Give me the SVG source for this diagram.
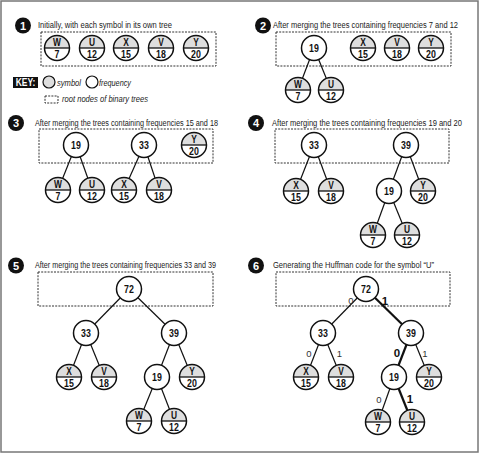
<svg xmlns="http://www.w3.org/2000/svg" xmlns:xlink="http://www.w3.org/1999/xlink" width="480" height="454" viewBox="0 0 480 454">
<style>
  text { font-family: "Liberation Sans", Arial, sans-serif; }
  .title { font-size: 9.5px; fill: #1a1a1a; }
  .badge circle { fill: #111; }
  .badge text { font-size: 11px; font-weight: bold; fill: #fff; text-anchor: middle; }
  .box { fill: none; stroke: #333; stroke-width: 1; stroke-dasharray: 2 1.2; }
  .sym, .num, .inum { font-size: 11px; font-weight: bold; fill: #111; text-anchor: middle; transform: scale(0.8, 1); }
  .sym { font-size: 10.5px; }
  .inode { fill: #fff; stroke: #111; stroke-width: 1.5; }
  .edge { stroke: #111; stroke-width: 1.2; fill: none; }
  .edge.bold { stroke-width: 2.2; }
  .key { font-size: 9px; font-style: italic; fill: #222; }
  .bit { font-size: 9.5px; fill: #333; text-anchor: middle; }
  .bit.b { font-size: 11.5px; font-weight: bold; fill: #111; }
</style>
<defs>
  <g id="leaf">
    <circle r="12.5" fill="#fff"/>
    <path d="M-12.5,0 A12.5,12.5 0 0 1 12.5,0 Z" fill="#dedede"/>
    <line x1="-12.5" y1="0" x2="12.5" y2="0" stroke="#111" stroke-width="1.3"/>
    <circle r="12.5" fill="none" stroke="#111" stroke-width="1.5"/>
  </g>
</defs>

<rect x="1" y="1" width="477" height="451" fill="#fff" stroke="#777" stroke-width="1.5"/>

<!-- Titles and badges -->
<g id="badge1" class="badge"><circle cx="23" cy="25.5" r="8"/><text x="23" y="29.5">1</text></g>
<text class="title" transform="translate(38,28) scale(0.79,1)" textLength="169.6" lengthAdjust="spacingAndGlyphs">Initially, with each symbol in its own tree</text>
<g id="badge2" class="badge"><circle cx="263" cy="25.5" r="8"/><text x="263" y="29.5">2</text></g>
<text class="title" transform="translate(273,28) scale(0.79,1)" textLength="234.2" lengthAdjust="spacingAndGlyphs">After merging the trees containing frequencies 7 and 12</text>
<g id="badge3" class="badge"><circle cx="16" cy="123" r="8"/><text x="16" y="127">3</text></g>
<text class="title" transform="translate(35,126) scale(0.79,1)" textLength="231.6" lengthAdjust="spacingAndGlyphs">After merging the trees containing frequencies 15 and 18</text>
<g id="badge4" class="badge"><circle cx="256" cy="123" r="8"/><text x="256" y="127">4</text></g>
<text class="title" transform="translate(272,126) scale(0.79,1)" textLength="240.5" lengthAdjust="spacingAndGlyphs">After merging the trees containing frequencies 19 and 20</text>
<g id="badge5" class="badge"><circle cx="16" cy="265.5" r="8"/><text x="16" y="269.5">5</text></g>
<text class="title" transform="translate(35,268) scale(0.79,1)" textLength="229.1" lengthAdjust="spacingAndGlyphs">After merging the trees containing frequencies 33 and 39</text>
<g id="badge6" class="badge"><circle cx="256" cy="265.5" r="8"/><text x="256" y="269.5">6</text></g>
<text class="title" transform="translate(273,268) scale(0.79,1)" textLength="203.8" lengthAdjust="spacingAndGlyphs">Generating the Huffman code for the symbol “U”</text>

<!-- Dashed root boxes -->
<rect class="box" x="41" y="32" width="175" height="34"/>
<rect class="box" x="276" y="32" width="175" height="34"/>
<rect class="box" x="39" y="129" width="174" height="34"/>
<rect class="box" x="275" y="129" width="174" height="34"/>
<rect class="box" x="38" y="272" width="175" height="34"/>
<rect class="box" x="276" y="272" width="174" height="34"/>

<!-- Key -->
<g id="key">
  <rect x="13" y="77" width="25" height="11" fill="#111"/>
  <text transform="translate(25.5,86) scale(0.85,1)" font-size="10" font-weight="bold" fill="#fff" text-anchor="middle">KEY:</text>
  <circle cx="49" cy="82" r="6" fill="#dedede" stroke="#111" stroke-width="1.2"/>
  <text class="key" transform="translate(57,85.5) scale(0.82,1)" textLength="29.3" lengthAdjust="spacingAndGlyphs">symbol</text>
  <circle cx="92" cy="82" r="6" fill="#fff" stroke="#111" stroke-width="1.2"/>
  <text class="key" transform="translate(99,85.5) scale(0.82,1)" textLength="39" lengthAdjust="spacingAndGlyphs">frequency</text>
  <rect class="box" x="45" y="96" width="13" height="7"/>
  <text class="key" transform="translate(62,102) scale(0.82,1)" textLength="104.9" lengthAdjust="spacingAndGlyphs">root nodes of binary trees</text>
</g>

<!-- Connectors -->
<g id="connectors">
  <line class="edge" x1="314" y1="48" x2="298" y2="90"/>
  <line class="edge" x1="314" y1="48" x2="331" y2="90"/>

  <line class="edge" x1="76" y1="145" x2="58" y2="190"/>
  <line class="edge" x1="76" y1="145" x2="92" y2="190"/>
  <line class="edge" x1="144" y1="145" x2="124" y2="190"/>
  <line class="edge" x1="144" y1="145" x2="159" y2="190"/>

  <line class="edge" x1="314" y1="145" x2="296" y2="191"/>
  <line class="edge" x1="314" y1="145" x2="331" y2="191"/>
  <line class="edge" x1="406" y1="145" x2="389" y2="191"/>
  <line class="edge" x1="406" y1="145" x2="423" y2="191"/>
  <line class="edge" x1="389" y1="191" x2="373" y2="235"/>
  <line class="edge" x1="389" y1="191" x2="407" y2="235"/>

  <line class="edge" x1="129" y1="289" x2="86" y2="333"/>
  <line class="edge" x1="129" y1="289" x2="174" y2="333"/>
  <line class="edge" x1="86" y1="333" x2="69" y2="377"/>
  <line class="edge" x1="86" y1="333" x2="104" y2="377"/>
  <line class="edge" x1="174" y1="333" x2="157" y2="377"/>
  <line class="edge" x1="174" y1="333" x2="192" y2="377"/>
  <line class="edge" x1="157" y1="377" x2="139" y2="421"/>
  <line class="edge" x1="157" y1="377" x2="174" y2="421"/>

  <line class="edge" x1="366" y1="289" x2="323" y2="333"/>
  <line class="edge bold" x1="366" y1="289" x2="411" y2="333"/>
  <line class="edge" x1="323" y1="333" x2="306" y2="377"/>
  <line class="edge" x1="323" y1="333" x2="341" y2="377"/>
  <line class="edge bold" x1="411" y1="333" x2="394" y2="377"/>
  <line class="edge" x1="411" y1="333" x2="429" y2="377"/>
  <line class="edge" x1="394" y1="377" x2="378" y2="422"/>
  <line class="edge bold" x1="394" y1="377" x2="412" y2="422"/>
</g>

<!-- Panel 1 nodes -->
<g id="p1-W" transform="translate(57,48)"><use xlink:href="#leaf"/><text class="sym" y="-1.8">W</text><text class="num" y="10">7</text></g>
<g id="p1-U" transform="translate(92,48)"><use xlink:href="#leaf"/><text class="sym" y="-1.8">U</text><text class="num" y="10">12</text></g>
<g id="p1-X" transform="translate(126,48)"><use xlink:href="#leaf"/><text class="sym" y="-1.8">X</text><text class="num" y="10">15</text></g>
<g id="p1-V" transform="translate(161,48)"><use xlink:href="#leaf"/><text class="sym" y="-1.8">V</text><text class="num" y="10">18</text></g>
<g id="p1-Y" transform="translate(196,48)"><use xlink:href="#leaf"/><text class="sym" y="-1.8">Y</text><text class="num" y="10">20</text></g>

<!-- Panel 2 nodes -->
<g id="p2-19" transform="translate(314,48)"><circle class="inode" r="12.5"/><text class="inum" y="4">19</text></g>
<g id="p2-X" transform="translate(363,48)"><use xlink:href="#leaf"/><text class="sym" y="-1.8">X</text><text class="num" y="10">15</text></g>
<g id="p2-V" transform="translate(397,48)"><use xlink:href="#leaf"/><text class="sym" y="-1.8">V</text><text class="num" y="10">18</text></g>
<g id="p2-Y" transform="translate(431,48)"><use xlink:href="#leaf"/><text class="sym" y="-1.8">Y</text><text class="num" y="10">20</text></g>
<g id="p2-W" transform="translate(298,90)"><use xlink:href="#leaf"/><text class="sym" y="-1.8">W</text><text class="num" y="10">7</text></g>
<g id="p2-U" transform="translate(331,90)"><use xlink:href="#leaf"/><text class="sym" y="-1.8">U</text><text class="num" y="10">12</text></g>

<!-- Panel 3 nodes -->
<g id="p3-19" transform="translate(76,145)"><circle class="inode" r="12.5"/><text class="inum" y="4">19</text></g>
<g id="p3-33" transform="translate(144,145)"><circle class="inode" r="12.5"/><text class="inum" y="4">33</text></g>
<g id="p3-Y" transform="translate(194,145)"><use xlink:href="#leaf"/><text class="sym" y="-1.8">Y</text><text class="num" y="10">20</text></g>
<g id="p3-W" transform="translate(58,190)"><use xlink:href="#leaf"/><text class="sym" y="-1.8">W</text><text class="num" y="10">7</text></g>
<g id="p3-U" transform="translate(92,190)"><use xlink:href="#leaf"/><text class="sym" y="-1.8">U</text><text class="num" y="10">12</text></g>
<g id="p3-X" transform="translate(124,190)"><use xlink:href="#leaf"/><text class="sym" y="-1.8">X</text><text class="num" y="10">15</text></g>
<g id="p3-V" transform="translate(159,190)"><use xlink:href="#leaf"/><text class="sym" y="-1.8">V</text><text class="num" y="10">18</text></g>

<!-- Panel 4 nodes -->
<g id="p4-33" transform="translate(314,145)"><circle class="inode" r="12.5"/><text class="inum" y="4">33</text></g>
<g id="p4-39" transform="translate(406,145)"><circle class="inode" r="12.5"/><text class="inum" y="4">39</text></g>
<g id="p4-X" transform="translate(296,191)"><use xlink:href="#leaf"/><text class="sym" y="-1.8">X</text><text class="num" y="10">15</text></g>
<g id="p4-V" transform="translate(331,191)"><use xlink:href="#leaf"/><text class="sym" y="-1.8">V</text><text class="num" y="10">18</text></g>
<g id="p4-19" transform="translate(389,191)"><circle class="inode" r="12.5"/><text class="inum" y="4">19</text></g>
<g id="p4-Y" transform="translate(423,191)"><use xlink:href="#leaf"/><text class="sym" y="-1.8">Y</text><text class="num" y="10">20</text></g>
<g id="p4-W" transform="translate(373,235)"><use xlink:href="#leaf"/><text class="sym" y="-1.8">W</text><text class="num" y="10">7</text></g>
<g id="p4-U" transform="translate(407,235)"><use xlink:href="#leaf"/><text class="sym" y="-1.8">U</text><text class="num" y="10">12</text></g>

<!-- Panel 5 nodes -->
<g id="p5-72" transform="translate(129,289)"><circle class="inode" r="12.5"/><text class="inum" y="4">72</text></g>
<g id="p5-33" transform="translate(86,333)"><circle class="inode" r="12.5"/><text class="inum" y="4">33</text></g>
<g id="p5-39" transform="translate(174,333)"><circle class="inode" r="12.5"/><text class="inum" y="4">39</text></g>
<g id="p5-X" transform="translate(69,377)"><use xlink:href="#leaf"/><text class="sym" y="-1.8">X</text><text class="num" y="10">15</text></g>
<g id="p5-V" transform="translate(104,377)"><use xlink:href="#leaf"/><text class="sym" y="-1.8">V</text><text class="num" y="10">18</text></g>
<g id="p5-19" transform="translate(157,377)"><circle class="inode" r="12.5"/><text class="inum" y="4">19</text></g>
<g id="p5-Y" transform="translate(192,377)"><use xlink:href="#leaf"/><text class="sym" y="-1.8">Y</text><text class="num" y="10">20</text></g>
<g id="p5-W" transform="translate(139,421)"><use xlink:href="#leaf"/><text class="sym" y="-1.8">W</text><text class="num" y="10">7</text></g>
<g id="p5-U" transform="translate(174,421)"><use xlink:href="#leaf"/><text class="sym" y="-1.8">U</text><text class="num" y="10">12</text></g>

<!-- Panel 6 nodes -->
<g id="p6-72" transform="translate(366,289)"><circle class="inode" r="12.5"/><text class="inum" y="4">72</text></g>
<g id="p6-33" transform="translate(323,333)"><circle class="inode" r="12.5"/><text class="inum" y="4">33</text></g>
<g id="p6-39" transform="translate(411,333)"><circle class="inode" r="12.5"/><text class="inum" y="4">39</text></g>
<g id="p6-X" transform="translate(306,377)"><use xlink:href="#leaf"/><text class="sym" y="-1.8">X</text><text class="num" y="10">15</text></g>
<g id="p6-V" transform="translate(341,377)"><use xlink:href="#leaf"/><text class="sym" y="-1.8">V</text><text class="num" y="10">18</text></g>
<g id="p6-19" transform="translate(394,377)"><circle class="inode" r="12.5"/><text class="inum" y="4">19</text></g>
<g id="p6-Y" transform="translate(429,377)"><use xlink:href="#leaf"/><text class="sym" y="-1.8">Y</text><text class="num" y="10">20</text></g>
<g id="p6-W" transform="translate(378,422)"><use xlink:href="#leaf"/><text class="sym" y="-1.8">W</text><text class="num" y="10">7</text></g>
<g id="p6-U" transform="translate(412,422)"><use xlink:href="#leaf"/><text class="sym" y="-1.8">U</text><text class="num" y="10">12</text></g>

<!-- Bit labels -->
<g id="bits">
  <text class="bit" x="351" y="304">0</text>
  <text class="bit b" x="385" y="305">1</text>
  <text class="bit" x="309" y="357">0</text>
  <text class="bit" x="339.5" y="357">1</text>
  <text class="bit b" x="397" y="357">0</text>
  <text class="bit" x="425" y="357">1</text>
  <text class="bit" x="379" y="403">0</text>
  <text class="bit b" x="410" y="403">1</text>
</g>
</svg>
